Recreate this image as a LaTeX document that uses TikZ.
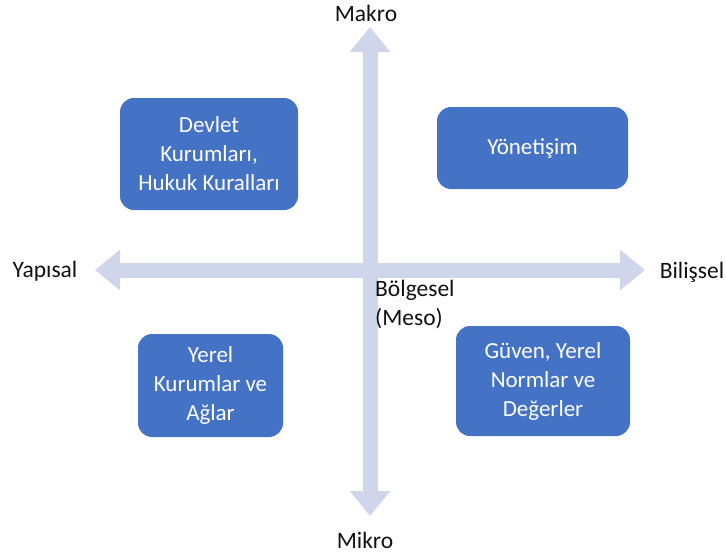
\documentclass[tikz,border=0pt]{standalone}
\usepackage{fontspec}
\setmainfont{Carlito}
\usepackage{tikz}
\usetikzlibrary{arrows.meta,positioning}
\definecolor{quadblue}{HTML}{4472C4}
\definecolor{quadaxis}{HTML}{CFD5EA}
\definecolor{quadtext}{HTML}{111111}
\tikzset{
  qbox/.style={rounded corners=14pt, fill=quadblue, draw=none, align=center,
               text=white, font=\fontsize{23}{29}\selectfont, inner sep=4pt},
  qaxis/.style={{Triangle[length=25pt,width=39pt]}-{Triangle[length=25pt,width=39pt]},
                draw=quadaxis, fill=quadaxis, line width=15pt},
  qlabel/.style={text=quadtext, font=\fontsize{23.5}{29}\selectfont, inner sep=1pt},
}
\begin{document}
\begin{tikzpicture}[x=1pt,y=-1pt]
\useasboundingbox (0,0) rectangle (726,555);
\coordinate (top) at (370,27);
\coordinate (bot) at (370,516);
\coordinate (lft) at (95,270);
\coordinate (rgt) at (645,270);
\draw[qaxis] (top)--(bot);
\draw[qaxis] (lft)--(rgt);
\node[qbox,minimum width=178pt,minimum height=112pt] (devlet) at (209,154) {Devlet\\Kurumları,\\Hukuk Kuralları};
\node[qbox,minimum width=191pt,minimum height=82pt] (yonet) at (532.5,148) {Yönetişim};
\node[qbox,minimum width=145pt,minimum height=103pt] (yerel) at (210.5,385.5) {Yerel\\Kurumlar ve\\Ağlar};
\node[qbox,minimum width=174pt,minimum height=110pt] (guven) at (543,381) {Güven, Yerel\\Normlar ve\\Değerler};
\node[qlabel] (makro) at (366,13) {Makro};
\node[qlabel] (mikro) at (365,540) {Mikro};
\node[qlabel] (yapisal) at (45,271) {Yapısal};
\node[qlabel] (bilissel) at (692,272) {Bilişsel};
\node[qlabel,anchor=north west,align=left] (meso) at (374,279) {Bölgesel\\(Meso)};
\end{tikzpicture}
\end{document}
